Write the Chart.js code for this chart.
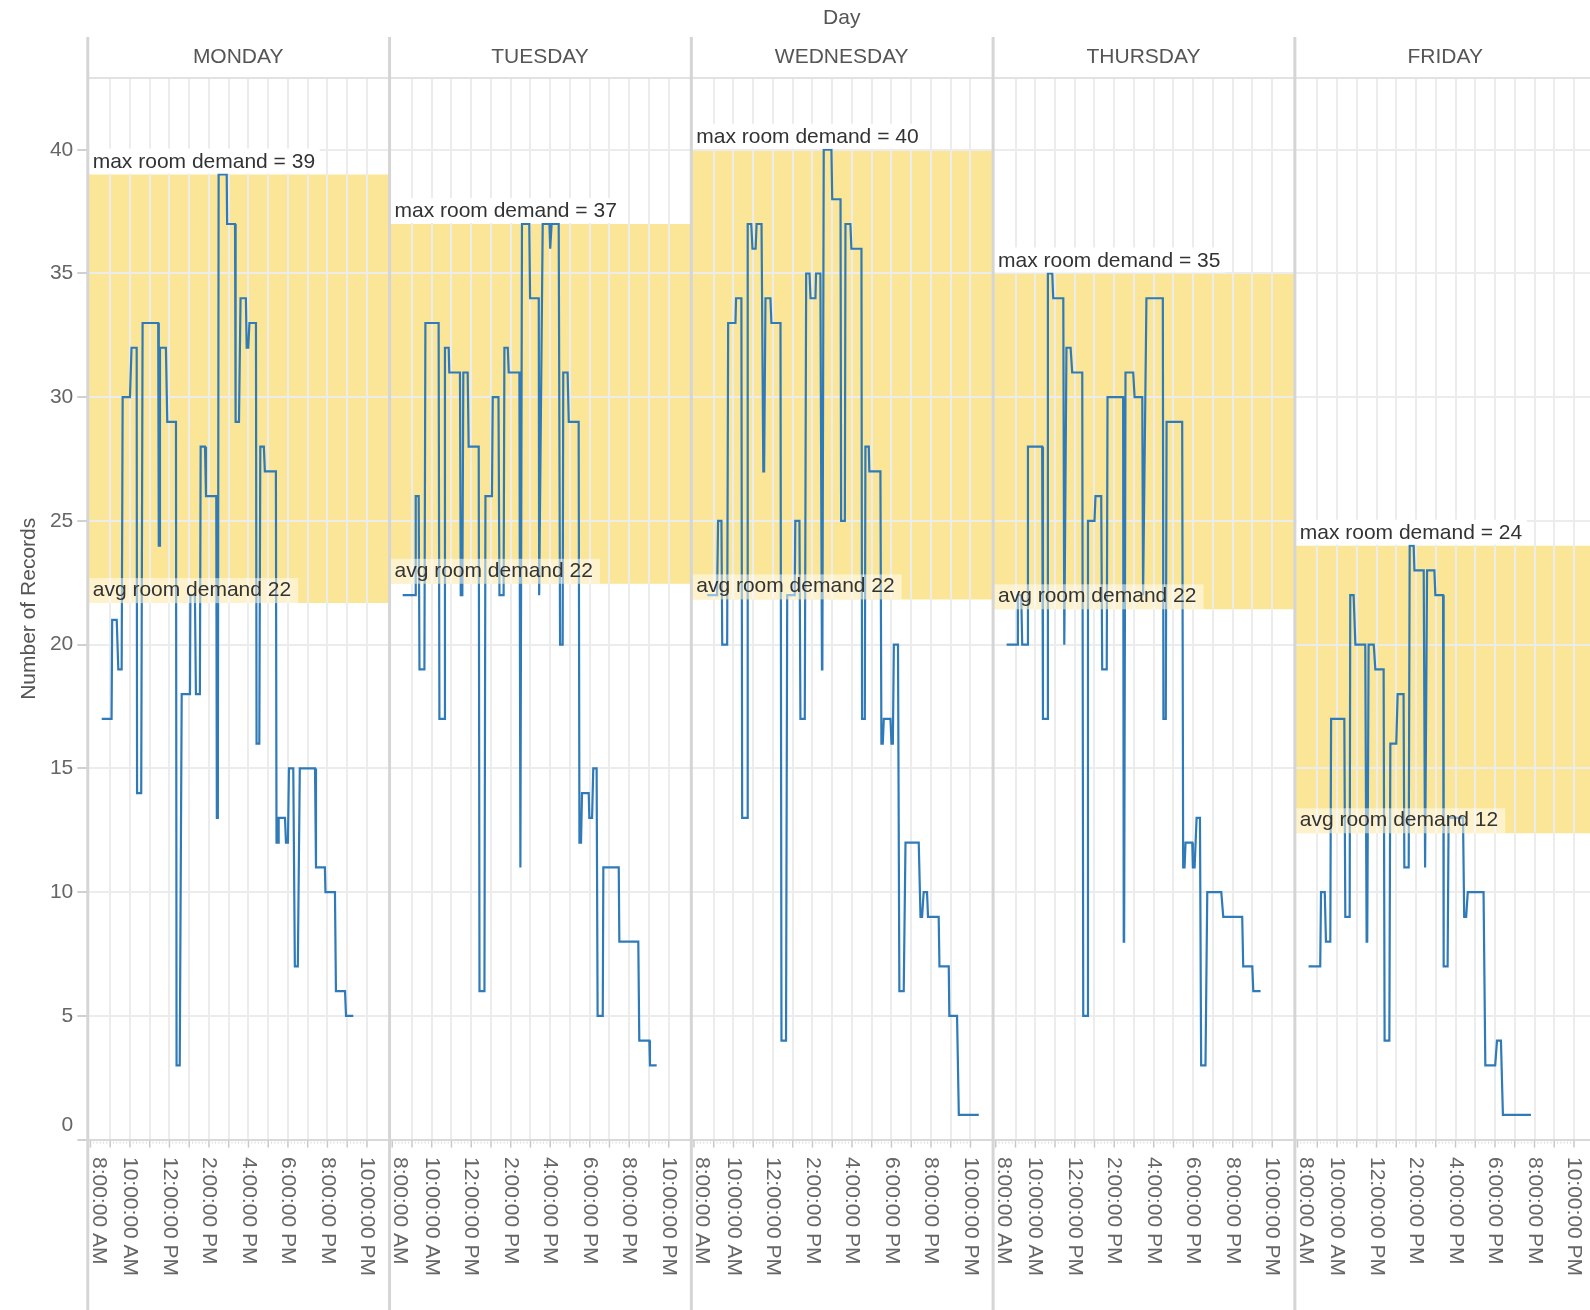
<!DOCTYPE html>
<html>
<head>
<meta charset="utf-8">
<script src="https://cdn.jsdelivr.net/npm/chart.js@4.4.0/dist/chart.umd.min.js"></script>
<style>
  html, body { margin: 0; padding: 0; background: #fff; }
  #chart { display: block; }
</style>
</head>
<body>
<canvas id="chart" width="1590" height="1310"></canvas>
<script>
const days = ["MONDAY", "TUESDAY", "WEDNESDAY", "THURSDAY", "FRIDAY"];
const maxDemand = [39, 37, 40, 35, 24];
const avgDemand = [21.68, 22.46, 21.83, 21.43, 12.38];
const avgLabel = [22, 22, 22, 22, 12];

const labelHours = [8, 10, 12, 14, 16, 18, 20, 22];
const hourLabels = ["8:00:00 AM", "10:00:00 AM", "12:00:00 PM", "2:00:00 PM",
  "4:00:00 PM", "6:00:00 PM", "8:00:00 PM", "10:00:00 PM"];

// each level: start hour, end hour, number of records
const monStart = [8.57, 9.10, 9.41, 9.63, 10.08, 10.36, 10.64, 11.46, 11.52, 11.89, 12.36, 12.62, 13.06, 13.34, 13.58, 13.85, 14.40, 14.49, 14.92, 15.35, 15.60, 15.91, 16.05, 16.41, 16.60, 16.83, 17.42, 17.53, 17.90, 18.05, 18.35, 18.60, 19.42, 19.90, 20.43, 20.94];
const monEnd = [9.07, 9.33, 9.58, 10.00, 10.34, 10.57, 11.43, 11.48, 11.82, 12.33, 12.52, 13.04, 13.29, 13.54, 13.80, 14.37, 14.45, 14.90, 15.32, 15.52, 15.87, 15.99, 16.38, 16.55, 16.78, 17.39, 17.50, 17.85, 18.00, 18.27, 18.50, 19.37, 19.87, 20.38, 20.89, 21.31];
const monCount = [17, 21, 19, 30, 32, 14, 33, 24, 32, 29, 3, 18, 22, 18, 28, 26, 13, 39, 37, 29, 34, 32, 33, 16, 28, 27, 12, 13, 12, 15, 7, 15, 11, 10, 6, 5];

const tueStart = [8.53, 9.19, 9.38, 9.68, 10.39, 10.67, 10.89, 11.47, 11.60, 11.87, 12.42, 12.72, 13.09, 13.43, 13.68, 13.90, 14.49, 14.57, 14.98, 15.44, 15.62, 16.00, 16.07, 16.50, 16.66, 16.94, 17.48, 17.61, 17.98, 18.18, 18.40, 18.69, 19.50, 20.51, 21.05];
const tueEnd = [9.17, 9.34, 9.63, 10.35, 10.64, 10.86, 11.43, 11.55, 11.82, 12.38, 12.67, 13.05, 13.38, 13.64, 13.85, 14.44, 14.51, 14.94, 15.42, 15.47, 15.96, 16.03, 16.43, 16.63, 16.88, 17.44, 17.56, 17.95, 18.12, 18.35, 18.66, 19.47, 20.46, 21.02, 21.39];
const tueCount = [22, 26, 19, 33, 17, 32, 31, 22, 31, 28, 6, 26, 30, 22, 32, 31, 11, 37, 34, 22, 37, 36, 37, 20, 31, 29, 12, 14, 13, 15, 5, 11, 8, 4, 3];

const wedStart = [8.67, 9.22, 9.43, 9.73, 10.13, 10.44, 10.72, 10.96, 11.17, 11.51, 11.62, 11.92, 12.43, 12.72, 13.13, 13.39, 13.68, 13.90, 14.18, 14.48, 14.57, 15.00, 15.45, 15.67, 15.97, 16.51, 16.68, 16.88, 17.49, 17.61, 18.00, 18.12, 18.40, 18.71, 19.47, 19.63, 19.85, 20.43, 20.93, 21.41];
const wedEnd = [9.17, 9.39, 9.68, 10.10, 10.40, 10.69, 10.90, 11.12, 11.42, 11.55, 11.87, 12.38, 12.66, 13.10, 13.34, 13.61, 13.85, 14.15, 14.40, 14.50, 14.96, 15.42, 15.64, 15.92, 16.48, 16.65, 16.85, 17.44, 17.56, 17.95, 18.07, 18.33, 18.62, 19.38, 19.55, 19.80, 20.39, 20.90, 21.32, 22.42];
const wedCount = [22, 25, 20, 33, 34, 13, 37, 36, 37, 27, 34, 33, 4, 22, 25, 17, 35, 34, 35, 19, 40, 38, 25, 37, 36, 17, 28, 27, 16, 17, 16, 20, 6, 12, 9, 10, 9, 7, 5, 1];

const thuStart = [8.55, 9.12, 9.34, 9.63, 10.39, 10.64, 10.91, 11.47, 11.58, 11.87, 12.43, 12.67, 13.05, 13.39, 13.66, 14.48, 14.57, 15.03, 15.46, 15.63, 16.49, 16.65, 17.49, 17.61, 17.98, 18.17, 18.40, 18.71, 19.52, 20.53, 21.04];
const thuEnd = [9.09, 9.29, 9.60, 10.35, 10.61, 10.86, 11.42, 11.49, 11.79, 12.38, 12.63, 13.00, 13.34, 13.62, 14.45, 14.50, 14.96, 15.42, 15.48, 16.46, 16.61, 17.44, 17.56, 17.95, 18.07, 18.34, 18.62, 19.42, 20.48, 20.99, 21.41];
const thuCount = [20, 22, 20, 28, 17, 35, 34, 20, 32, 31, 5, 25, 26, 19, 30, 8, 31, 30, 22, 34, 17, 29, 11, 12, 11, 13, 3, 10, 9, 7, 6];

const friStart = [8.56, 9.19, 9.44, 9.70, 10.42, 10.67, 10.93, 11.50, 11.60, 11.94, 12.41, 12.70, 13.07, 13.41, 13.68, 13.92, 14.46, 14.56, 14.98, 15.40, 15.65, 16.44, 16.62, 17.51, 18.10, 18.40];
const friEnd = [9.15, 9.38, 9.66, 10.37, 10.64, 10.84, 11.43, 11.53, 11.86, 12.36, 12.65, 13.00, 13.37, 13.63, 13.88, 14.39, 14.48, 14.93, 15.37, 15.60, 16.38, 16.54, 17.42, 18.01, 18.30, 19.82];
const friCount = [7, 10, 8, 17, 9, 22, 20, 8, 20, 19, 4, 16, 18, 11, 24, 23, 11, 23, 22, 7, 13, 9, 10, 3, 4, 1];

const series = [
  [monStart, monEnd, monCount],
  [tueStart, tueEnd, tueCount],
  [wedStart, wedEnd, wedCount],
  [thuStart, thuEnd, thuCount],
  [friStart, friEnd, friCount],
];

/*
  - Cada painel ocupa SPAN horas no eixo x contínuo
  - O painel começa um pouco antes das 8h
*/
const SPAN = 15.28;
const START = 7.84;
const XMAX = 76.09;

const FONT = "'Liberation Sans', Arial, sans-serif";
const BLUE = "#2f7ab8";
const YELLOW = "rgb(251, 229, 150)";

Chart.defaults.font.family = FONT;
Chart.defaults.font.size = 21;

function toX(day, hour) {
  return day * SPAN + hour - START;
}

function buildPoints(day, starts, ends, counts) {
  const points = [];
  starts.forEach((s, i) => {
    points.push({ x: toX(day, s), y: counts[i] });
    points.push({ x: toX(day, ends[i]), y: counts[i] });
  });
  return points;
}

const gridTicks = [];
days.forEach((d, i) => {
  for (let h = 9; h <= 22; h++) gridTicks.push({ value: toX(i, h) });
});

const bandDatasets = days.map((d, i) => ({
  data: [
    { x: i * SPAN, y: maxDemand[i] },
    { x: Math.min((i + 1) * SPAN, XMAX), y: maxDemand[i] },
  ],
  fill: { value: avgDemand[i] },
  backgroundColor: YELLOW,
  borderWidth: 0,
  pointRadius: 0,
}));

const lineDatasets = series.map((s, i) => ({
  data: buildPoints(i, s[0], s[1], s[2]),
  fill: false,
  borderColor: BLUE,
  borderWidth: 2.2,
  pointRadius: 0,
  tension: 0,
}));

const facetPlugin = {
  id: "facets",
  afterDatasetsDraw(chart) {
    const ctx = chart.ctx;
    const xs = chart.scales.x;
    const ys = chart.scales.y;
    ctx.save();
    ctx.font = "21px " + FONT;
    ctx.textAlign = "left";
    ctx.textBaseline = "middle";
    days.forEach((d, i) => {
      const left = xs.getPixelForValue(i * SPAN);

      const maxText = "max room demand = " + maxDemand[i];
      const yMax = ys.getPixelForValue(maxDemand[i]);
      const wMax = ctx.measureText(maxText).width;
      ctx.fillStyle = "#ffffff";
      ctx.fillRect(left + 2, yMax - 26, wMax + 8, 25);
      ctx.fillStyle = "#333";
      ctx.fillText(maxText, left + 5.4, yMax - 12.5);

      const avgText = "avg room demand " + avgLabel[i];
      const yAvg = ys.getPixelForValue(avgDemand[i]);
      const wAvg = ctx.measureText(avgText).width;
      ctx.fillStyle = "rgba(255, 255, 255, 0.5)";
      ctx.fillRect(left + 1.5, yAvg - 25, wAvg + 11, 25);
      ctx.fillStyle = "#333";
      ctx.fillText(avgText, left + 5.4, yAvg - 13);
    });
    ctx.restore();
  },
  afterDraw(chart) {
    const ctx = chart.ctx;
    const xs = chart.scales.x;
    const area = chart.chartArea;
    ctx.save();

    // linha abaixo dos cabeçalhos
    ctx.strokeStyle = "#e2e2e2";
    ctx.lineWidth = 2;
    ctx.beginPath();
    ctx.moveTo(area.left, 78);
    ctx.lineTo(area.right, 78);
    ctx.stroke();

    // marcas do eixo x
    days.forEach((d, i) => {
      for (let h = 8; h <= 22; h++) {
        const px = xs.getPixelForValue(toX(i, h));
        ctx.strokeStyle = "#c9c9c9";
        ctx.lineWidth = 1.5;
        ctx.beginPath();
        ctx.moveTo(px, area.bottom + 1);
        ctx.lineTo(px, area.bottom + 8);
        ctx.stroke();
        for (let m = 1; m < 6 && h < 22; m++) {
          const mx = xs.getPixelForValue(toX(i, h + m / 6));
          ctx.strokeStyle = "#dadada";
          ctx.lineWidth = 1;
          ctx.beginPath();
          ctx.moveTo(mx, area.bottom + 2);
          ctx.lineTo(mx, area.bottom + 4);
          ctx.stroke();
        }
      }
    });

    // bordas dos painéis
    ctx.strokeStyle = "#d5d5d5";
    ctx.lineWidth = 3;
    for (let i = 0; i <= days.length; i++) {
      const px = xs.getPixelForValue(i * SPAN) + 0.5;
      ctx.beginPath();
      ctx.moveTo(px, 37);
      ctx.lineTo(px, chart.height);
      ctx.stroke();
    }

    ctx.font = "21px " + FONT;
    ctx.textBaseline = "middle";

    // títulos
    ctx.fillStyle = "#555";
    ctx.textAlign = "center";
    const allCenter = (xs.getPixelForValue(0) + xs.getPixelForValue(days.length * SPAN)) / 2;
    ctx.fillText("Day", allCenter, 18);
    days.forEach((d, i) => {
      const center = (xs.getPixelForValue(i * SPAN) + xs.getPixelForValue((i + 1) * SPAN)) / 2;
      ctx.fillText(d, center, 57);
    });

    // rótulo 0 do eixo y
    ctx.fillStyle = "#666";
    ctx.textAlign = "right";
    ctx.fillText("0", area.left - 14, area.bottom - 14);

    // rótulos verticais das horas
    ctx.textAlign = "left";
    days.forEach((d, i) => {
      const border = xs.getPixelForValue(i * SPAN);
      labelHours.forEach((h, j) => {
        const px = Math.max(xs.getPixelForValue(toX(i, h)), border + 11);
        if (px > chart.width + 10) return;
        ctx.save();
        ctx.translate(px, 1157);
        ctx.rotate(Math.PI / 2);
        ctx.fillText(hourLabels[j], 0, 0);
        ctx.restore();
      });
    });

    ctx.restore();
  },
};

const chartCanvas = document.getElementById("chart").getContext("2d");
new Chart(chartCanvas, {
  type: "line",
  data: { datasets: bandDatasets.concat(lineDatasets) },
  plugins: [facetPlugin],
  options: {
    responsive: false,
    animation: false,
    layout: { padding: { top: 78, left: 0, right: 0, bottom: 0 } },
    plugins: {
      legend: { display: false },
      tooltip: { enabled: false },
      filler: { drawTime: "beforeDraw" },
    },
    scales: {
      x: {
        type: "linear",
        min: 0,
        max: XMAX,
        afterBuildTicks: (scale) => {
          scale.ticks = gridTicks.map((t) => ({ value: t.value }));
        },
        afterFit: (scale) => {
          scale.height = 170.4;
        },
        ticks: { display: false },
        grid: { color: "#ececec", lineWidth: 2, drawTicks: false },
        border: { display: true, color: "#d9d9d9", width: 2 },
      },
      y: {
        min: 0,
        max: 42.9,
        afterFit: (scale) => {
          scale.width = 87.3;
        },
        ticks: {
          stepSize: 5,
          includeBounds: false,
          color: "#666",
          padding: 4,
          font: { size: 21 },
          callback: (v) => (v === 0 ? "" : v),
        },
        grid: { color: "#ececec", lineWidth: 2, tickLength: 10, tickColor: "#d0d0d0", tickWidth: 2 },
        border: { display: false },
        title: {
          display: true,
          text: "Number of Records",
          color: "#555",
          font: { size: 21 },
          padding: { top: 17, bottom: 0 },
        },
      },
    },
  },
});
</script>
</body>
</html>
